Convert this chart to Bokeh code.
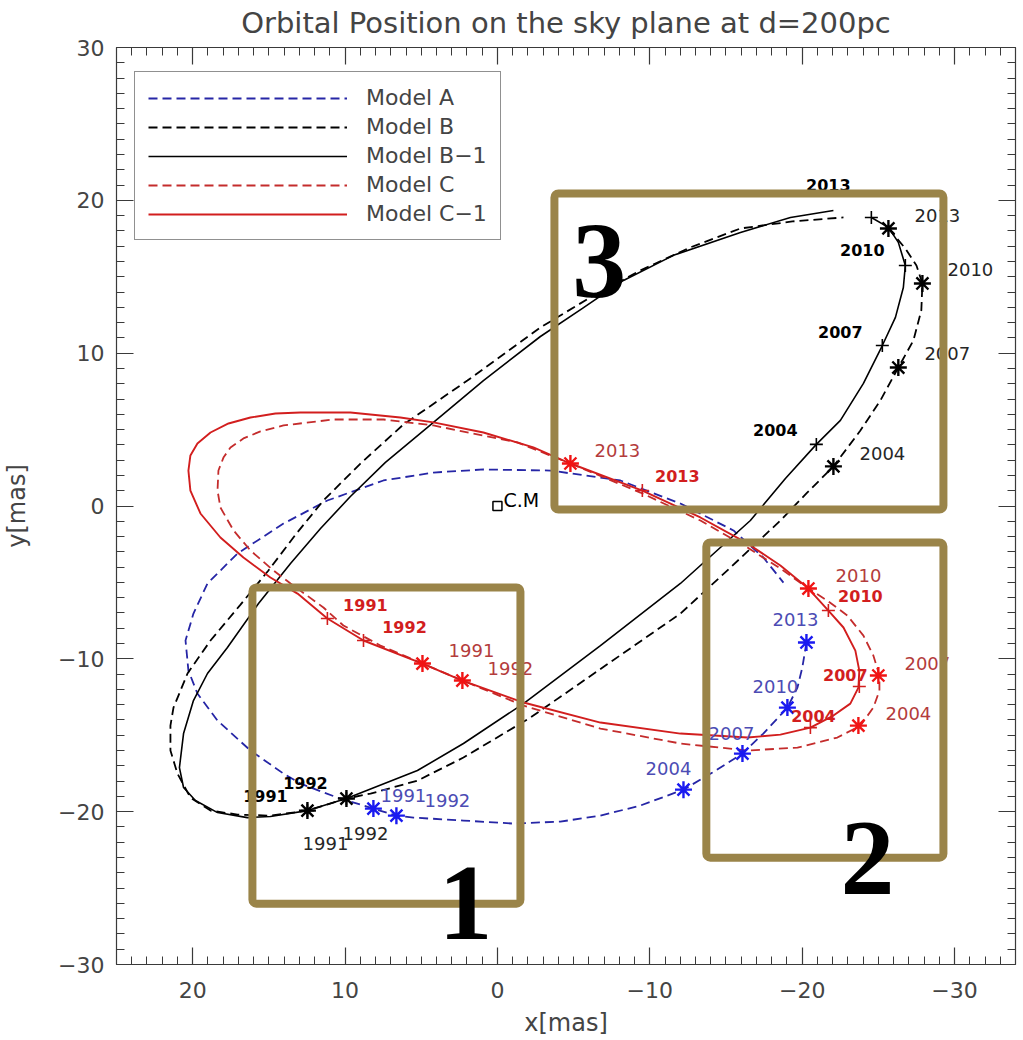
from bokeh.plotting import figure
from bokeh.models import (Range1d, LinearAxis, SingleIntervalTicker, CustomJSTickFormatter,
                          CustomLabelingPolicy, Legend, LegendItem, BoxAnnotation, Label,
                          ColumnDataSource)
from bokeh.core.properties import value
from bokeh.embed import file_html
from bokeh.resources import INLINE

# ---------------- data (in mas) ----------------
years = ["1991", "1992", "2004", "2007", "2010", "2013"]

# Model A (blue dashed)
A_x = [-20.28, -20.01, -19.69, -19.03, -17.45, -16.08, -14.11, -12.21, -9.38, -6.76, -4.13, -1.05,
       2.23, 5.51, 6.63, 8.14, 10.50, 12.93, 14.04, 16.21, 18.37, 19.69, 20.28, 20.47, 19.95, 19.03,
       17.06, 14.04, 11.16, 7.48, 4.20, 0.92, -3.48, -8.07, -12.01, -15.49, -17.45, -18.77]
A_y = [-8.93, -10.57, -11.88, -13.19, -14.89, -16.20, -17.44, -18.56, -19.60, -20.26, -20.65, -20.78,
       -20.58, -20.39, -20.26, -19.80, -19.08, -18.16, -17.51, -16.00, -14.04, -12.27, -10.77, -8.80,
       -7.04, -5.07, -3.11, -1.15, 0.36, 1.67, 2.19, 2.39, 2.32, 1.67, 0.16, -1.60, -3.37, -5.01]

# Model B (black dashed)
B_x = [-25.66, -26.77, -27.50, -27.89, -27.82, -27.30, -26.31, -25.13, -23.82, -22.05, -20.28, -18.57,
       -15.29, -12.01, -7.09, -2.17, 2.23, 5.25, 8.33, 9.91, 12.47, 14.90, 17.06, 18.83, 20.15, 21.00,
       21.46, 21.46, 21.26, 20.34, 18.83, 16.86, 15.03, 13.19, 11.42, 8.99, 6.17, 1.97, -2.82, -6.10,
       -9.38, -12.66, -15.95, -19.36, -22.71]
B_y = [18.16, 16.85, 15.74, 14.56, 12.80, 10.83, 9.06, 6.90, 4.94, 2.59, 0.82, -0.95,
       -4.03, -7.04, -10.44, -13.84, -16.46, -17.97, -18.82, -19.14, -19.93, -20.26, -20.19, -19.93,
       -19.08, -17.51, -16.00, -14.37, -13.19, -10.96, -8.80, -6.45, -4.22, -1.80, 0.36, 2.78, 5.33,
       8.21, 11.68, 13.65, 15.41, 16.92, 18.16, 18.62, 18.88]

# Model B-1 (black solid)
B1_x = [-24.54, -25.66, -26.31, -26.77, -26.64, -26.12, -25.26, -24.02, -22.51, -20.93, -18.90, -16.60,
        -12.01, -6.76, -1.71, 2.23, 5.25, 9.91, 12.47, 14.90, 16.41, 18.37, 19.82, 20.60, 20.87, 20.60,
        19.95, 19.03, 17.72, 15.68, 13.58, 11.61, 9.65, 7.35, 4.59, 0.92, -2.82, -5.58, -8.27, -11.55,
        -15.95, -19.23, -22.05]
B1_y = [18.88, 18.23, 17.25, 15.74, 14.30, 12.34, 10.50, 8.02, 5.60, 4.03, 1.80, -0.95,
        -5.07, -9.13, -12.93, -15.54, -17.31, -19.14, -19.93, -20.32, -20.39, -20.06, -19.27, -18.42,
        -17.12, -14.89, -12.73, -10.96, -9.26, -6.38, -3.76, -1.47, 0.62, 2.85, 5.14, 8.21, 11.09,
        12.93, 14.76, 16.40, 17.90, 18.88, 19.34]

# Model C (red dashed)
C_x = [-4.79, -9.38, -13.32, -16.41, -18.57, -20.41, -21.65, -22.97, -24.02, -24.67, -25.07, -25.07,
       -24.67, -23.82, -22.31, -19.69, -16.41, -12.01, -6.76, -1.71, 2.30, 4.92, 7.68, 10.11, 11.42,
       13.58, 14.70, 16.21, 17.32, 18.18, 18.37, 18.31, 17.98, 17.52, 16.67, 15.55, 14.04, 10.76, 7.48,
       4.20, 0.92, -1.31, -4.79]
C_y = [2.78, 0.88, -0.95, -2.72, -4.09, -5.40, -6.19, -7.17, -8.48, -9.78, -11.09, -12.08,
       -13.19, -14.37, -15.15, -15.81, -16.00, -15.54, -14.56, -13.06, -11.42, -10.31, -9.13, -7.82,
       -6.64, -5.07, -4.22, -2.91, -1.60, -0.10, 1.01, 2.32, 3.17, 3.83, 4.42, 4.88, 5.27, 5.66, 5.66,
       5.27, 4.61, 4.16, 2.78]

# Model C-1 (red solid)
C1_x = [-9.51, -13.32, -16.41, -18.57, -20.41, -21.72, -22.71, -23.49, -23.75, -23.69, -23.16, -22.05,
        -20.54, -18.57, -16.41, -12.01, -6.76, -1.71, 2.30, 4.92, 8.79, 11.16, 13.12, 14.90, 16.67,
        18.18, 19.49, 20.15, 20.28, 20.15, 19.69, 18.83, 17.65, 16.21, 14.57, 12.93, 9.65, 6.37, 4.20,
        0.92, -2.36, -4.79, -9.51]
C1_y = [1.01, -0.75, -2.45, -3.89, -5.40, -6.84, -7.95, -9.46, -10.77, -11.88, -12.93, -13.71,
        -14.50, -14.96, -15.15, -14.89, -14.17, -12.86, -11.42, -10.31, -8.80, -7.36, -5.73, -4.68,
        -3.37, -2.06, -0.49, 1.01, 2.32, 3.31, 4.09, 4.81, 5.40, 5.79, 6.05, 6.12, 6.12, 5.79, 5.47,
        4.81, 3.83, 2.78, 1.01]

# yearly positions (1991, 1992, 2004, 2007, 2010, 2013)
A_mx = [8.14, 6.63, -12.21, -16.08, -19.03, -20.28]
A_my = [-19.80, -20.26, -18.56, -16.20, -13.19, -8.93]
B_mx = [12.47, 9.91, -22.05, -26.31, -27.89, -25.66]
B_my = [-19.93, -19.14, 2.59, 9.06, 14.56, 18.16]
B1_mx = [12.47, 9.91, -20.93, -25.26, -26.77, -24.54]
B1_my = [-19.93, -19.14, 4.03, 10.50, 15.74, 18.88]
C_mx = [4.92, 2.30, -23.69, -25.00, -20.41, -4.79]
C_my = [-10.31, -11.42, -14.37, -11.09, -5.40, 2.78]
C1_mx = [11.16, 8.79, -20.54, -23.75, -21.72, -9.51]
C1_my = [-7.36, -8.80, -14.50, -11.81, -6.84, 1.01]

cm_x = [0.0]
cm_y = [0.0]

# ---------------- layout constants (screen px) ----------------
A_off = [(30, -13), (51, -15), (-15, -21), (-11, -20), (-12, -21), (-11, -23)]
B_off = [(18, 33), (19, 35), (49, -13), (49, -14), (48, -14), (49, -13)]
B1_off = [(-42, -15), (-41, -16), (-41, -14), (-42, -14), (-43, -15), (-43, -32)]
C_off = [(49, -13), (48, -12), (50, -12), (49, -12), (50, -13), (47, -13)]
C1_off = [(38, -13), (41, -13), (3, -12), (-14, -11), (32, -15), (35, -15)]

BLUE_LINE = "#2626A6"
BLUE_MARK = "#1A1AF0"
BLUE_TEXT = "#4C4CB4"
RED_SOLID = "#D21E1E"
RED_DASH = "#C42C2C"
RED_MARK = "#F01414"
RED_TEXT = "#B43C3C"
GOLD = "#9A8449"
AXIS_C = "#3A3A3A"
TEXT_C = "#444444"
FONT = "DejaVu Sans"
DASH = "9 5"

p = figure(frame_width=899, frame_height=917,
           x_range=Range1d(25, -34), y_range=Range1d(-30, 30),
           output_backend="svg", toolbar_location=None,
           min_border_left=108, min_border_top=47, min_border_right=4, min_border_bottom=70,
           title="Orbital Position on the sky plane at d=200pc",
           x_axis_label="x[mas]", y_axis_label="y[mas]")
p.outline_line_color = None
p.xgrid.visible = False
p.ygrid.visible = False
p.background_fill_color = "white"

p.title.text_font = FONT
p.title.text_font_size = "29px"
p.title.text_font_style = "normal"
p.title.text_color = TEXT_C
p.title.align = "center"
p.title.standoff = 7

fmt = CustomJSTickFormatter(code="return tick < 0 ? '\\u2212' + Math.abs(tick) : String(tick);")
no_labels = CustomLabelingPolicy(code="return [];")


def style_axis(ax, show_labels):
    ax.ticker = SingleIntervalTicker(interval=10, num_minor_ticks=10)
    ax.major_tick_in = 17
    ax.major_tick_out = 0
    ax.minor_tick_in = 8
    ax.minor_tick_out = 0
    ax.axis_line_color = AXIS_C
    ax.major_tick_line_color = AXIS_C
    ax.minor_tick_line_color = AXIS_C
    ax.axis_line_width = 1.2
    ax.major_tick_line_width = 1.2
    ax.minor_tick_line_width = 1.0
    if show_labels:
        ax.formatter = fmt
        ax.major_label_text_font = FONT
        ax.major_label_text_font_size = "22px"
        ax.major_label_text_color = TEXT_C
        ax.axis_label_text_font = FONT
        ax.axis_label_text_font_size = "24px"
        ax.axis_label_text_font_style = "normal"
        ax.axis_label_text_color = TEXT_C
    else:
        ax.major_label_policy = no_labels
        ax.major_label_text_font_size = "2px"
        ax.major_label_standoff = 0
        ax.axis_label = None


style_axis(p.xaxis[0], True)
style_axis(p.yaxis[0], True)
p.xaxis[0].major_label_standoff = 17
p.xaxis[0].axis_label_standoff = 8
p.yaxis[0].major_label_standoff = 12
p.yaxis[0].axis_label_standoff = 24

top_ax = LinearAxis()
right_ax = LinearAxis()
style_axis(top_ax, False)
style_axis(right_ax, False)
p.add_layout(top_ax, "above")
p.add_layout(right_ax, "right")

# ---------------- orbits ----------------
rA = p.line(A_x, A_y, line_color=BLUE_LINE, line_width=1.8, line_dash=DASH)
rB = p.line(B_x, B_y, line_color="black", line_width=1.8, line_dash=DASH)
rB1 = p.line(B1_x, B1_y, line_color="black", line_width=1.6)
rC = p.line(C_x, C_y, line_color=RED_DASH, line_width=1.8, line_dash=DASH)
rC1 = p.line(C1_x, C1_y, line_color=RED_SOLID, line_width=1.9)

# ---------------- yearly markers ----------------
p.scatter(A_mx, A_my, marker="asterisk", size=17, line_color=BLUE_MARK, line_width=2.4)
p.scatter(B_mx, B_my, marker="asterisk", size=17, line_color="black", line_width=2.4)
p.scatter(B1_mx, B1_my, marker="cross", size=13, line_color="black", line_width=1.6)
p.scatter(C_mx, C_my, marker="asterisk", size=17, line_color=RED_MARK, line_width=2.4)
p.scatter(C1_mx, C1_my, marker="cross", size=13, line_color=RED_SOLID, line_width=1.6)

# centre of mass
p.scatter(cm_x, cm_y, marker="square", size=9, fill_color=None, line_color="black", line_width=1.5)
p.text(x=cm_x, y=cm_y, text=["C.M"], x_offset=6, y_offset=-6, text_align="left",
       text_baseline="alphabetic", text_font=value(FONT), text_font_size="19px", text_color="black")


def add_labels(mx, my, offs, color, bold):
    src = ColumnDataSource(dict(x=mx, y=my, t=years,
                                xo=[o[0] for o in offs], yo=[o[1] for o in offs]))
    p.text(x="x", y="y", text="t", x_offset="xo", y_offset="yo", source=src,
           text_align="center", text_baseline="middle", text_font=value(FONT),
           text_font_style="bold" if bold else "normal",
           text_font_size="16px" if bold else "18px", text_color=color)


add_labels(A_mx, A_my, A_off, BLUE_TEXT, False)
add_labels(B_mx, B_my, B_off, "#262626", False)
add_labels(B1_mx, B1_my, B1_off, "black", True)
add_labels(C_mx, C_my, C_off, RED_TEXT, False)
add_labels(C1_mx, C1_my, C1_off, RED_SOLID, True)

# ---------------- legend ----------------
legend = Legend(items=[
    LegendItem(label="Model A", renderers=[rA]),
    LegendItem(label="Model B", renderers=[rB]),
    LegendItem(label="Model B\u22121", renderers=[rB1]),
    LegendItem(label="Model C", renderers=[rC]),
    LegendItem(label="Model C\u22121", renderers=[rC1]),
], location=(18, 724))
legend.glyph_width = 199
legend.label_standoff = 19
legend.padding = 13
legend.spacing = 4
legend.label_text_font = FONT
legend.label_text_font_size = "22px"
legend.label_text_color = TEXT_C
legend.border_line_color = "#222222"
legend.border_line_width = 1
legend.background_fill_alpha = 1.0
p.add_layout(legend)

# ---------------- highlighted regions ----------------
boxes = [(16.08, -1.51, -5.33, -26.02), (-13.71, -29.27, -2.39, -23.01), (-3.74, -29.27, 20.45, -0.23)]
for (l, r, t, b) in boxes:
    p.add_layout(BoxAnnotation(left=l, right=r, top=t, bottom=b, fill_alpha=0,
                               line_color=GOLD, line_width=8, line_alpha=1.0, border_radius=4))

for (tx, ty, txt) in [(2.10, -26.04, "1"), (-24.28, -23.04, "2"), (-6.69, 16.01, "3")]:
    p.add_layout(Label(x=tx, y=ty, text=txt, text_font="Liberation Serif", text_font_style="bold",
                       text_font_size="108px", text_align="center", text_baseline="alphabetic",
                       text_color="black"))

open("out.html", "w").write(file_html(p, INLINE))
